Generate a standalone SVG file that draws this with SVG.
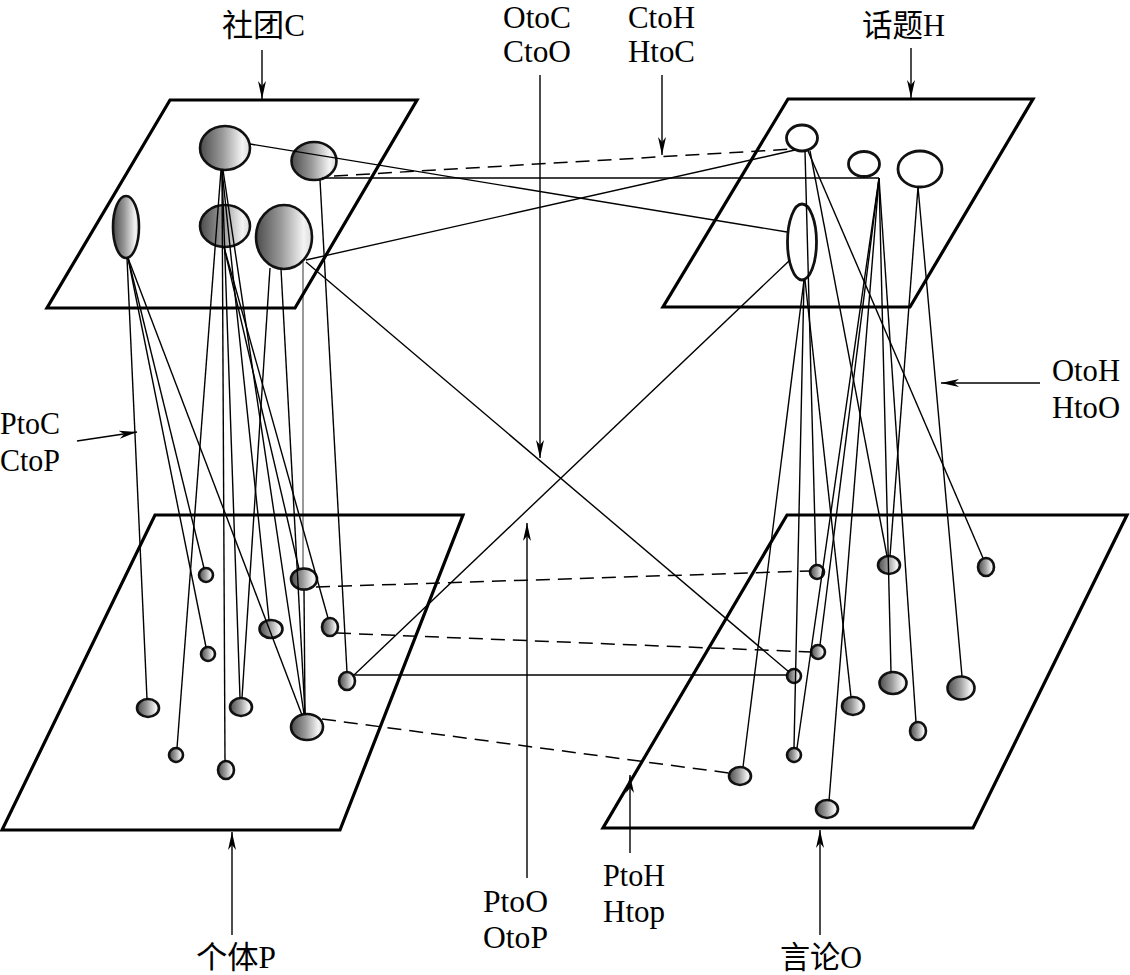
<svg xmlns="http://www.w3.org/2000/svg" width="1130" height="975" viewBox="0 0 1130 975">
<defs>
<linearGradient id="shade" x1="0" y1="0" x2="1" y2="0">
<stop offset="0" stop-color="#4c4c4c"/>
<stop offset="0.45" stop-color="#9a9a9a"/>
<stop offset="0.85" stop-color="#f4f4f4"/>
<stop offset="1" stop-color="#dadada"/>
</linearGradient>
<marker id="arr" markerUnits="userSpaceOnUse" markerWidth="20" markerHeight="10" viewBox="0 -5 20 10" refX="18" refY="0" orient="auto">
<path d="M0,-4 L18,0 L0,4 L5,0 z" fill="#000"/>
</marker>
<style>
.plane{fill:none;stroke:#000;stroke-width:3.2;stroke-linejoin:miter}
.g{fill:url(#shade);stroke:#111;stroke-width:2.6}
.w{fill:#fff;stroke:#111;stroke-width:2.8}
.ln{stroke:#000;stroke-width:1.4;fill:none}
.thin{stroke:#000;stroke-width:0.8;fill:none}
.dash{stroke:#000;stroke-width:1.5;stroke-dasharray:14 8;fill:none}
.arrow{stroke:#000;stroke-width:1.4;fill:none;marker-end:url(#arr)}
text{font-family:"Liberation Serif","Noto Sans CJK SC",serif;font-size:31px;fill:#000}
</style>
</defs>
<rect width="1130" height="975" fill="#fff"/>

<g id="planes">
<polygon id="planeC" class="plane" points="170,100 417,100 295,308 47,308"/>
<polygon id="planeH" class="plane" points="788,99 1033,99 910,307 663,307"/>
<polygon id="planeP" class="plane" points="155,515 463,515 340,830 2,830"/>
<polygon id="planeO" class="plane" points="787,515 1127,515 973,828 603,828"/>
</g>

<g id="nodes">
<g id="C1"><ellipse class="g" cx="225" cy="148" rx="25" ry="22"/></g>
<g id="C2"><ellipse class="g" cx="314" cy="161" rx="22.5" ry="19"/></g>
<g id="C3"><ellipse class="g" cx="126" cy="227" rx="13" ry="31"/></g>
<g id="C4"><ellipse class="g" cx="225" cy="226" rx="25" ry="21"/></g>
<g id="C5"><ellipse class="g" cx="284" cy="237" rx="28" ry="32"/></g>
<g id="H1"><ellipse class="w" cx="802" cy="138" rx="15.5" ry="13"/></g>
<g id="H2"><ellipse class="w" cx="864" cy="164" rx="15.5" ry="12.5"/></g>
<g id="H3"><ellipse class="w" cx="920" cy="169" rx="22" ry="18"/></g>
<g id="H4"><ellipse class="w" cx="802" cy="242" rx="14.5" ry="38"/></g>
<g id="P1"><ellipse class="g" cx="206" cy="575" rx="7" ry="7"/></g>
<g id="P2"><ellipse class="g" cx="304" cy="579" rx="13" ry="10.5"/></g>
<g id="P3"><ellipse class="g" cx="271" cy="629" rx="11.5" ry="9"/></g>
<g id="P4"><ellipse class="g" cx="330" cy="627" rx="8" ry="9"/></g>
<g id="P5"><ellipse class="g" cx="208" cy="654" rx="7" ry="7"/></g>
<g id="P6"><ellipse class="g" cx="347" cy="681" rx="8" ry="9"/></g>
<g id="P7"><ellipse class="g" cx="148" cy="708" rx="11" ry="9"/></g>
<g id="P8"><ellipse class="g" cx="241" cy="707" rx="11" ry="9"/></g>
<g id="P9"><ellipse class="g" cx="307" cy="727" rx="16" ry="13"/></g>
<g id="P10"><ellipse class="g" cx="176" cy="755" rx="7" ry="7"/></g>
<g id="P11"><ellipse class="g" cx="226" cy="770" rx="8" ry="9"/></g>
<g id="O1"><ellipse class="g" cx="817" cy="572" rx="7" ry="7"/></g>
<g id="O2"><ellipse class="g" cx="889" cy="565" rx="11" ry="9"/></g>
<g id="O3"><ellipse class="g" cx="986" cy="567" rx="8" ry="9"/></g>
<g id="O4"><ellipse class="g" cx="818" cy="652" rx="7" ry="7"/></g>
<g id="O5"><ellipse class="g" cx="794" cy="676" rx="7" ry="7"/></g>
<g id="O6"><ellipse class="g" cx="893" cy="683" rx="13.5" ry="11"/></g>
<g id="O7"><ellipse class="g" cx="961" cy="688" rx="13.5" ry="11.5"/></g>
<g id="O8"><ellipse class="g" cx="853" cy="706" rx="11" ry="9"/></g>
<g id="O9"><ellipse class="g" cx="918" cy="731" rx="8" ry="9"/></g>
<g id="O10"><ellipse class="g" cx="794" cy="755" rx="7" ry="7"/></g>
<g id="O11"><ellipse class="g" cx="740" cy="776" rx="11" ry="9"/></g>
<g id="O12"><ellipse class="g" cx="827" cy="809" rx="11" ry="9"/></g>
</g>

<g id="connectors">
<path class="ln" d="M127,258 L147,699"/>
<path class="ln" d="M128,258 L204,568"/>
<path class="ln" d="M128,258 L206,647"/>
<path class="ln" d="M128,258 L302,715"/>
<path class="ln" d="M222,170 L225,761"/>
<path class="ln" d="M221,170 L177,748"/>
<path class="ln" d="M222,170 L240,698"/>
<path class="ln" d="M222,170 L269,620"/>
<path class="ln" d="M223,170 L304,714"/>
<path class="ln" d="M224,247 L299,569"/>
<path class="ln" d="M224,247 L328,618"/>
<path class="ln" d="M270,268 L242,698"/>
<path class="ln" d="M281,269 L305,714"/>
<path class="thin" d="M303,262 L303,568"/>
<path class="ln" d="M304,590 L305,714"/>
<path class="ln" d="M320,180 L347,672"/>

<path class="ln" d="M250,144 L787,232"/>
<path class="ln" d="M306,260 L795,150"/>
<path class="ln" d="M322,178 L879,178"/>
<path class="dash" d="M334,176 L793,149"/>

<path class="ln" d="M306,262 L789,672"/>
<path class="ln" d="M790,260 L353,676"/>
<path class="ln" d="M355,675 L787,675"/>
<path class="dash" d="M316,587 L810,571"/>
<path class="dash" d="M337,633 L811,652"/>
<path class="dash" d="M322,719 L729,773"/>

<path class="ln" d="M805,151 L816,565"/>
<path class="ln" d="M810,151 L887,556"/>
<path class="ln" d="M808,151 L983,558"/>
<path class="ln" d="M804,280 L743,767"/>
<path class="ln" d="M804,280 L794,748"/>
<path class="ln" d="M805,280 L851,697"/>
<path class="ln" d="M879,178 L820,645"/>
<path class="ln" d="M879,178 L797,748"/>
<path class="ln" d="M879,178 L891,672"/>
<path class="ln" d="M879,178 L916,722"/>
<path class="ln" d="M879,178 L829,801"/>
<path class="ln" d="M918,187 L890,556"/>
<path class="ln" d="M918,187 L962,676"/>
</g>

<g id="label-arrows">
<path class="arrow" d="M262,50 L262,99"/>
<path class="arrow" d="M911,48 L911,98"/>
<path class="arrow" d="M540,75 L540,458"/>
<path class="arrow" d="M662,75 L662,155"/>
<path class="arrow" d="M77,441 L137,432"/>
<path class="arrow" d="M1040,383 L941,383"/>
<path class="arrow" d="M232,935 L232,832"/>
<path class="arrow" d="M527,878 L527,523"/>
<path class="arrow" d="M630,853 L630,775"/>
<path class="arrow" d="M820,935 L820,830"/>
</g>

<g id="labels">
<text x="222" y="36" textLength="83" lengthAdjust="spacingAndGlyphs">社团C</text>
<text x="862" y="36" textLength="83" lengthAdjust="spacingAndGlyphs">话题H</text>
<text x="503" y="28" textLength="68" lengthAdjust="spacingAndGlyphs">OtoC</text>
<text x="503" y="62" textLength="68" lengthAdjust="spacingAndGlyphs">CtoO</text>
<text x="628" y="28" textLength="67" lengthAdjust="spacingAndGlyphs">CtoH</text>
<text x="628" y="62" textLength="67" lengthAdjust="spacingAndGlyphs">HtoC</text>
<text x="1052" y="381" textLength="68" lengthAdjust="spacingAndGlyphs">OtoH</text>
<text x="1052" y="418" textLength="68" lengthAdjust="spacingAndGlyphs">HtoO</text>
<text x="0" y="434" textLength="60" lengthAdjust="spacingAndGlyphs">PtoC</text>
<text x="0" y="471" textLength="60" lengthAdjust="spacingAndGlyphs">CtoP</text>
<text x="483" y="912" textLength="65" lengthAdjust="spacingAndGlyphs">PtoO</text>
<text x="483" y="948" textLength="65" lengthAdjust="spacingAndGlyphs">OtoP</text>
<text x="603" y="886" textLength="62" lengthAdjust="spacingAndGlyphs">PtoH</text>
<text x="603" y="922" textLength="62" lengthAdjust="spacingAndGlyphs">Htop</text>
<text x="196" y="968" textLength="80" lengthAdjust="spacingAndGlyphs">个体P</text>
<text x="780" y="968" textLength="82" lengthAdjust="spacingAndGlyphs">言论O</text>
</g>
</svg>
